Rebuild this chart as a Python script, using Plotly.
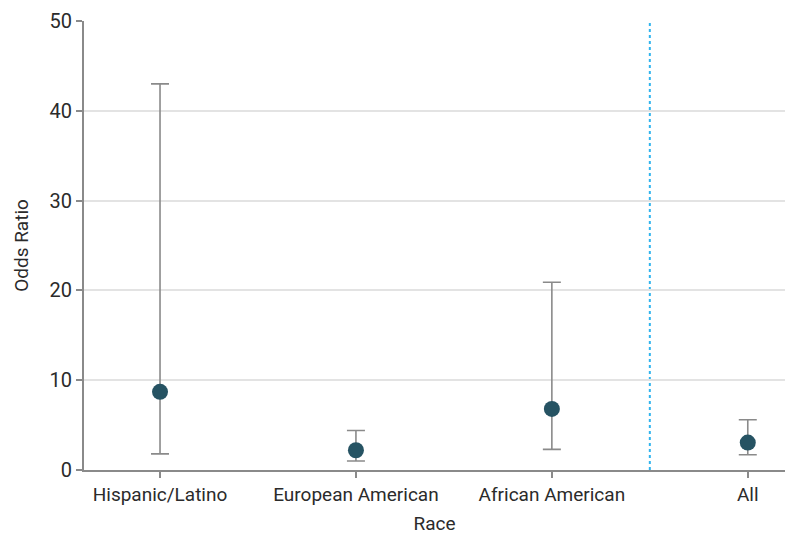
import plotly.graph_objects as go

categories = ["Hispanic/Latino", "European American", "African American", "All"]
odds_ratio = [8.7, 2.2, 6.8, 3.05]
ci_lower = [1.8, 1.0, 2.3, 1.7]
ci_upper = [43.0, 4.4, 20.9, 5.6]
divider_after = 2.5
y_ticks = [0, 10, 20, 30, 40, 50]

err_plus = [u - v for u, v in zip(ci_upper, odds_ratio)]
err_minus = [v - l for v, l in zip(odds_ratio, ci_lower)]

font_family = "Roboto, 'Open Sans', sans-serif"

fig = go.Figure()
fig.add_trace(go.Scatter(
    x=categories, y=odds_ratio, mode="markers",
    marker=dict(size=16, color="#265363"),
    error_y=dict(type="data", symmetric=False, array=err_plus, arrayminus=err_minus,
                 color="#8a8a8a", thickness=1.6, width=9),
    showlegend=False, hoverinfo="skip", cliponaxis=False,
))

fig.add_shape(type="line", xref="x", yref="paper", x0=divider_after, x1=divider_after,
              y0=0, y1=1, line=dict(color="#30b4ee", width=2, dash="dot"), layer="below")

# page body has an 8px default margin, so the figure is 8px smaller
fig.update_layout(
    width=792, height=539,
    margin=dict(l=76, r=15, t=13, b=77, autoexpand=False),
    plot_bgcolor="white", paper_bgcolor="white",
    font=dict(family=font_family, size=19, color="#2b2b2b"),
    xaxis=dict(
        type="category", range=[-0.388, 3.19], automargin=False,
        showline=True, linecolor="#8a8a8a", linewidth=1.8,
        ticks="outside", ticklen=6, tickcolor="#8a8a8a", tickwidth=1.5,
        showgrid=False, zeroline=False,
        title=dict(text="Race", font=dict(size=19), standoff=12),
        tickfont=dict(size=19),
    ),
    yaxis=dict(
        range=[0, 50], tickvals=y_ticks, automargin=False,
        showline=True, linecolor="#8a8a8a", linewidth=1.8,
        ticks="outside", ticklen=6, tickcolor="#8a8a8a", tickwidth=1.5,
        showgrid=True, gridcolor="#e3e3e3", gridwidth=1.5,
        zeroline=False,
        title=dict(text="Odds Ratio", font=dict(size=19), standoff=16),
        tickfont=dict(size=20),
    ),
)

fig.write_html("out.html")
